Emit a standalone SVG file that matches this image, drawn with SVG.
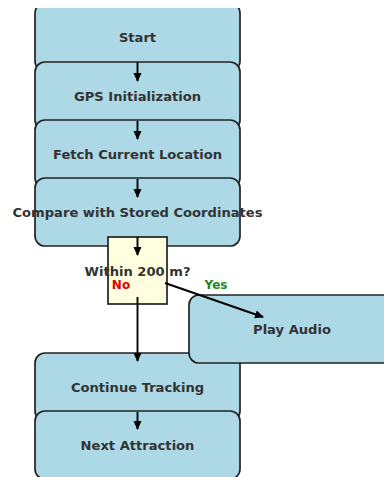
<svg xmlns="http://www.w3.org/2000/svg" width="384" height="477" viewBox="0 0 384 477">
<style>
.box{fill:#add8e6;stroke:#222;stroke-width:1.7}
.dec{fill:#ffffe0;stroke:#222;stroke-width:1.7}
.t{font-family:"DejaVu Sans",sans-serif;font-weight:bold;font-size:13.1px;fill:#333;text-anchor:middle;dominant-baseline:central}
.c line{stroke:#000;stroke-width:1.9}
</style>
<defs>
<marker id="ah" markerWidth="9" markerHeight="9" refX="8" refY="4.5" orient="auto" markerUnits="userSpaceOnUse">
<path d="M0,0.5 L9,4.5 L0,8.5 z" fill="#000"/>
</marker>
<clipPath id="cl"><rect x="0" y="8" width="384" height="469"/></clipPath>
</defs>
<rect width="384" height="477" fill="#fff"/>
<g id="start" clip-path="url(#cl)"><rect class="box" x="35" y="3" width="205" height="68" rx="10"/><text class="t" x="137.5" y="37">Start</text></g>
<g id="gps"><rect class="box" x="35" y="62" width="205" height="68" rx="10"/><text class="t" x="137.5" y="96">GPS Initialization</text></g>
<g id="fetch"><rect class="box" x="35" y="120" width="205" height="68" rx="10"/><text class="t" x="137.5" y="154">Fetch Current Location</text></g>
<g id="compare"><rect class="box" x="35" y="178" width="205" height="68" rx="10"/><text class="t" x="137.5" y="212">Compare with Stored Coordinates</text></g>
<g id="decision"><rect class="dec" x="108" y="237" width="59" height="67"/><text class="t" x="137.5" y="271">Within 200 m?</text></g>
<g id="continue"><rect class="box" x="35" y="353" width="205" height="68" rx="10"/><text class="t" x="137.5" y="387">Continue Tracking</text></g>
<g id="play"><rect class="box" x="189" y="295" width="205" height="68" rx="10"/><text class="t" x="292" y="329">Play Audio</text></g>
<g id="next"><rect class="box" x="35" y="411" width="205" height="68" rx="10"/><text class="t" x="137.5" y="445">Next Attraction</text></g>
<g class="c" id="connectors">
<line x1="137.5" y1="62" x2="137.5" y2="81" marker-end="url(#ah)"/>
<line x1="137.5" y1="121" x2="137.5" y2="139" marker-end="url(#ah)"/>
<line x1="137.5" y1="179" x2="137.5" y2="197" marker-end="url(#ah)"/>
<line x1="137.5" y1="237" x2="137.5" y2="255" marker-end="url(#ah)"/>
<line x1="137.5" y1="297" x2="137.5" y2="361" marker-end="url(#ah)"/>
<line x1="165" y1="283" x2="263" y2="317" marker-end="url(#ah)"/>
<line x1="137.5" y1="412" x2="137.5" y2="429" marker-end="url(#ah)"/>
</g>
<text class="t" x="121" y="285" style="fill:#e00000;font-size:12px">No</text>
<text class="t" x="216" y="285" style="fill:#1a8a1a;font-size:12px">Yes</text>
</svg>
